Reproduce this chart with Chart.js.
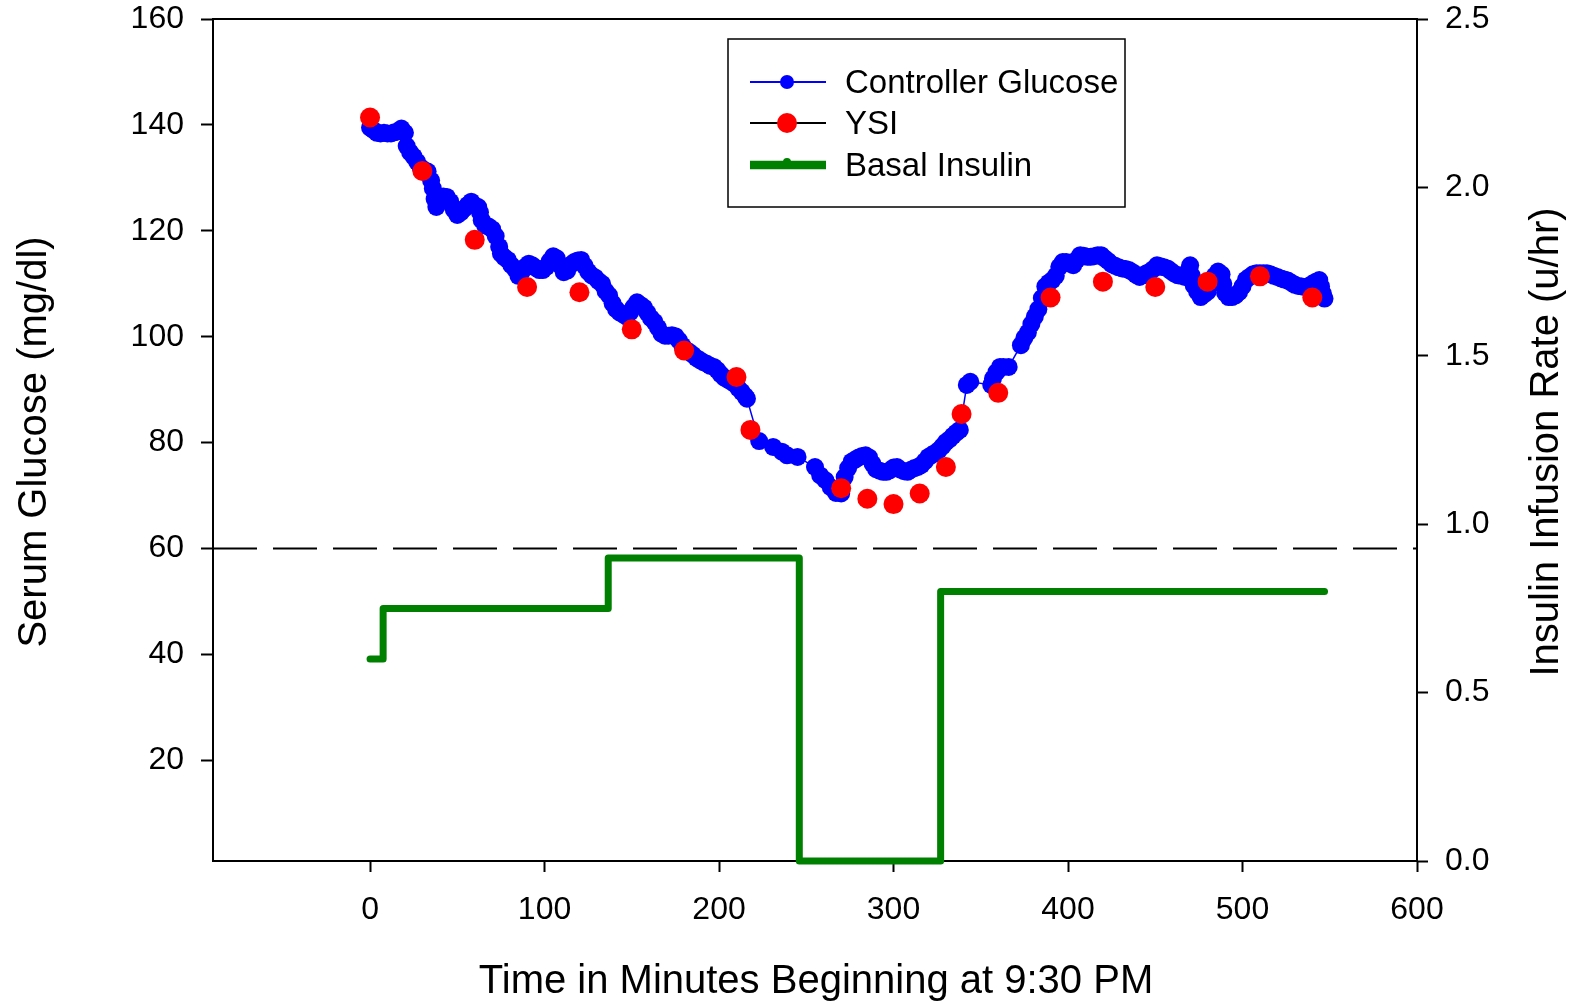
<!DOCTYPE html>
<html>
<head>
<meta charset="utf-8">
<title>Serum Glucose and Insulin Infusion</title>
<script src="https://cdn.jsdelivr.net/npm/chart.js@4/dist/chart.umd.min.js"></script>
<style>
  html, body { margin: 0; padding: 0; background: #fff; }
  #wrap { width: 1581px; height: 1003px; }
</style>
</head>
<body>
<div id="wrap"><canvas id="glucoseChart" width="1581" height="1003"></canvas></div>
<script>
// Controller glucose (mg/dl), minutes from 9:30 PM
var cgTime = [0, 2, 4, 6, 8, 10, 12, 14, 16, 18, 20, 21, 23, 25, 27, 29, 31, 33, 35, 36, 37, 38, 40, 42, 44, 46, 48, 50,
  52, 54, 56, 58, 60, 62, 63, 64, 66, 68, 70, 72, 74, 75, 77, 79, 81, 83, 85, 87, 89, 91, 93, 95, 97, 99, 101, 103,
  105, 107, 109, 111, 113, 115, 117, 119, 121, 123, 125, 127, 129, 131, 133, 135, 137, 139, 141, 143, 145, 147, 149,
  151, 153, 155, 157, 159, 161, 163, 165, 167, 169, 171, 173, 175, 177, 179, 181, 183, 185, 187, 189, 191, 193, 195,
  197, 199, 201, 203, 205, 207, 209, 211, 213, 215, 216, 223, 231, 236, 239, 245, 255, 258, 261, 264, 267, 270, 272,
  274, 276, 278, 280, 282, 284, 286, 288, 290, 292, 294, 296, 298, 300, 302, 304, 306, 308, 310, 312, 314, 316, 318,
  320, 322, 324, 326, 328, 330, 332, 334, 336, 338, 342, 344, 356, 357, 359, 361, 363, 366, 373, 375, 377, 379, 381,
  383, 385, 387, 389, 391, 393, 395, 397, 399, 401, 403, 405, 407, 409, 411, 413, 415, 417, 419, 421, 423, 425, 427,
  429, 431, 433, 435, 437, 439, 441, 443, 445, 447, 449, 451, 453, 455, 457, 459, 461, 463, 465, 467, 469, 470, 471,
  472, 474, 476, 478, 480, 482, 484, 486, 488, 489, 490, 492, 494, 496, 498, 500, 502, 504, 506, 508, 510, 512, 514,
  516, 518, 520, 522, 524, 526, 528, 530, 532, 534, 536, 538, 540, 542, 544, 545, 546, 547];
var cgValue = [139.5, 139, 138.5, 138.4, 138.5, 138.4, 138.4, 138.6, 138.8, 139.3, 138.5, 136, 134.8, 134, 133, 132,
  131.5, 131.2, 129.5, 128, 126, 124.5, 125.5, 126.5, 126.4, 125.5, 124, 123, 123.5, 124.2, 124.9, 125.5, 124.8,
  124.5, 123.5, 122, 121, 120.8, 120.3, 119, 117, 115.7, 115, 114.5, 113.5, 112.8, 111.5, 112.3, 113.2, 113.8, 113.5,
  113, 112.6, 112.6, 113.2, 114.3, 115.2, 114.8, 113.5, 112.2, 112.5, 113.6, 114.1, 114.4, 114.5, 113.4, 112.3,
  111.6, 111.2, 110.5, 110, 108.6, 107.8, 106.3, 105.2, 104.6, 104.2, 103.8, 104.6, 105.6, 106.5, 106, 105.5, 104.5,
  103.5, 102.8, 101.7, 100.6, 100.2, 100.2, 100.3, 100.1, 99.3, 98.3, 97.5, 97.1, 96.6, 96, 95.6, 95.2, 94.9, 94.5,
  94.3, 93.7, 92.9, 92.3, 91.9, 91.5, 91.1, 90.3, 89.6, 88.8, 88.3, 80.3, 79.2, 78.3, 77.6, 77.3, 75.4, 73.8, 72.9,
  71.6, 70.5, 70.4, 73.5, 75.2, 76.4, 76.8, 77.2, 77.5, 77.6, 77.2, 76, 75, 74.7, 74.5, 74.5, 74.8, 75.3, 75.4, 74.9,
  74.6, 74.5, 74.9, 75.2, 75.4, 75.8, 76.5, 77.3, 77.7, 78.1, 78.6, 79.3, 80.1, 80.6, 81.3, 81.9, 82.4, 90.9, 91.5,
  90.9, 92.1, 93.3, 94.3, 94.3, 94.3, 98.4, 99.8, 100.8, 102.4, 103.8, 105.2, 107.3, 109.5, 110.2, 110.7, 111.5,
  113.2, 114.1, 114.1, 113.8, 113.5, 114.5, 115.4, 115.3, 115.1, 115.1, 115.2, 115.4, 115.4, 114.8, 114.3, 113.7,
  113.4, 113.1, 112.9, 112.8, 112.6, 112.2, 111.7, 111.3, 111.6, 112, 112.3, 112.8, 113.5, 113.3, 113.1, 112.9,
  112.4, 111.9, 111.6, 111.5, 111.3, 112.5, 113.5, 111.5, 109.7, 108.5, 107.5, 108, 108.5, 110, 111.5, 112.3, 111.8,
  110, 108.3, 107.5, 107.5, 107.8, 108.4, 109.5, 110.8, 111.3, 111.8, 112, 112, 112, 112, 111.8, 111.5, 111.3, 111,
  110.8, 110.6, 110.2, 109.8, 109.6, 109.5, 109.4, 109.6, 110, 110.4, 110.7, 109.5, 108.2, 107.2];

// YSI reference samples
var ysiTime = [0, 30, 60, 90, 120, 150, 180, 210, 218, 270, 285, 300, 315, 330, 339, 360, 390, 420, 450, 480, 510, 540];
var ysiValue = [141.4, 131.3, 118.3, 109.4, 108.4, 101.4, 97.4, 92.4, 82.4, 71.4, 69.4, 68.4, 70.4, 75.4, 85.4,
  89.4, 107.4, 110.4, 109.4, 110.4, 111.4, 107.4];

// basal insulin rate (u/hr), value holds until the next change
var insulinTime = [0, 7.5, 136.5, 246, 327, 547];
var insulinRate = [0.6, 0.75, 0.9, 0, 0.8, 0.8];

// hypoglycemia threshold line
var thresholdLevel = 60;

// axis ticks
var timeTicks = [0, 100, 200, 300, 400, 500, 600];
var glucoseTicks = [20, 40, 60, 80, 100, 120, 140, 160];
var insulinTicks = [0, 0.5, 1.0, 1.5, 2.0, 2.5];

var FONT = "'Liberation Sans', Arial, sans-serif";

function toPoints(xs, ys) {
  return xs.map(function(x, i) { return { x: x, y: ys[i] }; });
}

function fixedTicks(list) {
  return function(scale) {
    scale.ticks = list.map(function(v) { return { value: v }; });
  };
}

// fixed axis sizes so the plot box lands where the original one is
function fixedWidth(w) {
  return function(scale) {
    scale.width = w;
    scale.paddingTop = 0;
    scale.paddingBottom = 0;
  };
}

// box on top of the plot area, axis titles and the legend
var decorPlugin = {
  id: 'decor',
  afterDraw: function(chart) {
    var ctx = chart.ctx;
    var a = chart.chartArea;
    ctx.save();

    ctx.strokeStyle = '#000';
    ctx.lineWidth = 2;
    ctx.beginPath();
    ctx.moveTo(a.left, a.top);
    ctx.lineTo(a.right, a.top);
    ctx.stroke();

    // axis titles
    ctx.fillStyle = '#000';
    ctx.font = '40px ' + FONT;
    ctx.textAlign = 'center';
    ctx.textBaseline = 'alphabetic';
    ctx.fillText('Time in Minutes Beginning at 9:30 PM', 816, 993);

    ctx.save();
    ctx.translate(46, 442);
    ctx.rotate(-Math.PI / 2);
    ctx.fillText('Serum Glucose (mg/dl)', 0, 0);
    ctx.restore();

    ctx.save();
    ctx.translate(1558, 442);
    ctx.rotate(-Math.PI / 2);
    ctx.fillText('Insulin Infusion Rate (u/hr)', 0, 0);
    ctx.restore();

    // legend
    var lx = 728, ly = 39, lw = 397, lh = 168;
    ctx.fillStyle = '#fff';
    ctx.fillRect(lx, ly, lw, lh);
    ctx.strokeStyle = '#000';
    ctx.lineWidth = 1.5;
    ctx.strokeRect(lx, ly, lw, lh);

    var rows = [
      { label: 'Controller Glucose', line: '#0000FF', lineWidth: 2, dot: '#0000FF', r: 7, base: 93 },
      { label: 'YSI', line: '#000000', lineWidth: 2, dot: '#FF0000', r: 10, base: 134 },
      { label: 'Basal Insulin', line: '#008000', lineWidth: 8.5, dot: '#008000', r: 4, base: 176 }
    ];
    rows.forEach(function(row) {
      var cy = row.base - 11;
      ctx.strokeStyle = row.line;
      ctx.lineWidth = row.lineWidth;
      ctx.beginPath();
      ctx.moveTo(750, cy);
      ctx.lineTo(826, cy);
      ctx.stroke();
      ctx.fillStyle = row.dot;
      ctx.beginPath();
      ctx.arc(787, row.r < 5 ? cy - 3 : cy, row.r, 0, Math.PI * 2);
      ctx.fill();
      ctx.fillStyle = '#000';
      ctx.font = '33px ' + FONT;
      ctx.textAlign = 'left';
      ctx.textBaseline = 'alphabetic';
      ctx.fillText(row.label, 845, row.base);
    });

    ctx.restore();
  }
};

var ctx = document.getElementById('glucoseChart').getContext('2d');
var chart = new Chart(ctx, {
  type: 'line',
  data: {
    datasets: [{
      label: 'YSI',
      data: toPoints(ysiTime, ysiValue),
      yAxisID: 'y',
      showLine: false,
      pointRadius: 10,
      pointBorderWidth: 0,
      pointBackgroundColor: '#FF0000',
      borderColor: '#FF0000',
      order: 0
    }, {
      label: 'Controller Glucose',
      data: toPoints(cgTime, cgValue),
      yAxisID: 'y',
      borderColor: '#0000FF',
      borderWidth: 1.5,
      pointRadius: 9,
      pointBorderWidth: 0,
      pointBackgroundColor: '#0000FF',
      tension: 0,
      order: 1
    }, {
      label: 'Basal Insulin',
      data: toPoints(insulinTime, insulinRate),
      yAxisID: 'y2',
      borderColor: '#008000',
      borderWidth: 7,
      borderCapStyle: 'round',
      borderJoinStyle: 'round',
      stepped: 'before',
      pointRadius: 0,
      clip: false,
      order: 2
    }, {
      label: 'threshold',
      data: toPoints([-90, 600], [thresholdLevel, thresholdLevel]),
      yAxisID: 'y',
      borderColor: '#000',
      borderWidth: 2,
      borderDash: [44, 16],
      pointRadius: 0,
      order: 3
    }]
  },
  options: {
    responsive: false,
    animation: false,
    devicePixelRatio: 1,
    layout: { padding: { top: 19, left: 0, right: 0, bottom: 0 } },
    plugins: {
      legend: { display: false },
      tooltip: { enabled: false }
    },
    scales: {
      x: {
        type: 'linear',
        position: 'bottom',
        min: -90,
        max: 600,
        afterBuildTicks: fixedTicks(timeTicks),
        afterFit: function(scale) { scale.height = 142; },
        grid: { drawOnChartArea: false, tickLength: 11, tickColor: '#000', tickWidth: 2 },
        border: { color: '#000', width: 2 },
        ticks: { autoSkip: false, maxRotation: 0, padding: 19, color: '#000', font: { family: FONT, size: 32 } }
      },
      y: {
        type: 'linear',
        position: 'left',
        min: 1,
        max: 160,
        afterBuildTicks: fixedTicks(glucoseTicks),
        afterFit: fixedWidth(213),
        grid: { drawOnChartArea: false, tickLength: 12, tickColor: '#000', tickWidth: 2 },
        border: { color: '#000', width: 2 },
        ticks: { autoSkip: false, padding: 17, color: '#000', font: { family: FONT, size: 32 } }
      },
      y2: {
        type: 'linear',
        position: 'right',
        min: 0,
        max: 2.5,
        afterBuildTicks: fixedTicks(insulinTicks),
        afterFit: fixedWidth(164),
        grid: { drawOnChartArea: false, tickLength: 11, tickColor: '#000', tickWidth: 2 },
        border: { color: '#000', width: 2 },
        ticks: {
          autoSkip: false,
          padding: 17,
          color: '#000',
          font: { family: FONT, size: 32 },
          callback: function(v) { return Number(v).toFixed(1); }
        }
      }
    }
  },
  plugins: [decorPlugin]
});
</script>
</body>
</html>
